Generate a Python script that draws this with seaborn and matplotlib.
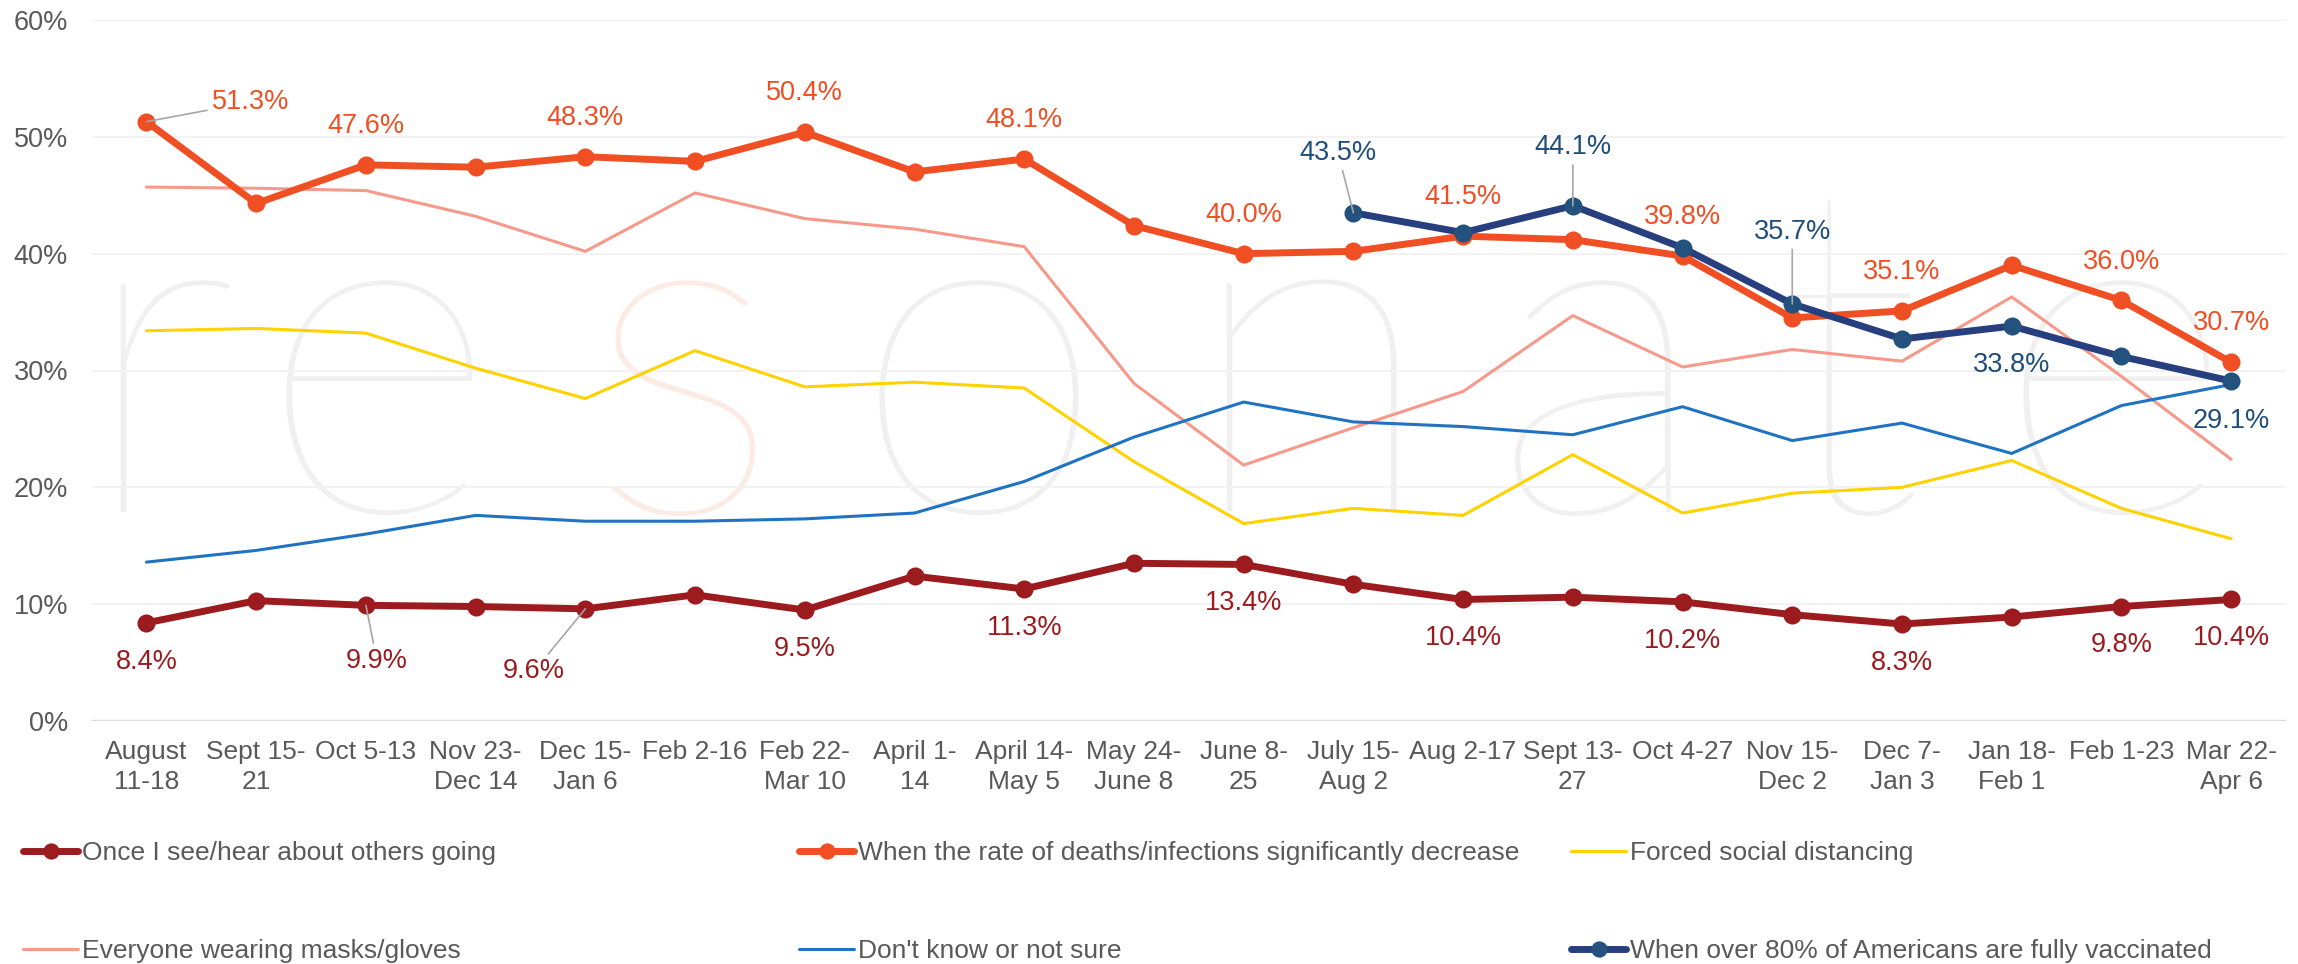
import numpy as np
import pandas as pd
import seaborn as sns
import matplotlib.pyplot as plt

# survey waves
waves = ["August\n11-18", "Sept 15-\n21", "Oct 5-13", "Nov 23-\nDec 14", "Dec 15-\nJan 6",
         "Feb 2-16", "Feb 22-\nMar 10", "April 1-\n14", "April 14-\nMay 5", "May 24-\nJune 8",
         "June 8-\n25", "July 15-\nAug 2", "Aug 2-17", "Sept 13-\n27", "Oct 4-27",
         "Nov 15-\nDec 2", "Dec 7-\nJan 3", "Jan 18-\nFeb 1", "Feb 1-23", "Mar 22-\nApr 6"]

others_going = [8.4, 10.3, 9.9, 9.8, 9.6, 10.8, 9.5, 12.4, 11.3, 13.5,
                13.4, 11.7, 10.4, 10.6, 10.2, 9.1, 8.3, 8.9, 9.8, 10.4]
rate_decrease = [51.3, 44.3, 47.6, 47.4, 48.3, 47.9, 50.4, 47.0, 48.1, 42.4,
                 40.0, 40.2, 41.5, 41.2, 39.8, 34.5, 35.1, 39.0, 36.0, 30.7]
social_distancing = [33.4, 33.6, 33.2, 30.2, 27.6, 31.7, 28.6, 29.0, 28.5, 22.2,
                     16.9, 18.2, 17.6, 22.8, 17.8, 19.5, 20.0, 22.3, 18.2, 15.6]
masks_gloves = [45.7, 45.6, 45.4, 43.2, 40.2, 45.2, 43.0, 42.1, 40.6, 28.9,
                21.9, 25.1, 28.2, 34.7, 30.3, 31.8, 30.8, 36.3, 29.5, 22.4]
dont_know = [13.6, 14.6, 16.0, 17.6, 17.1, 17.1, 17.3, 17.8, 20.5, 24.3,
             27.3, 25.6, 25.2, 24.5, 26.9, 24.0, 25.5, 22.9, 27.0, 28.8]
vaccinated = [np.nan] * 11 + [43.5, 41.8, 44.1, 40.5, 35.7, 32.7, 33.8, 31.2, 29.1]

names = ["Once I see/hear about others going",
         "When the rate of deaths/infections significantly decrease",
         "Forced social distancing",
         "Everyone wearing masks/gloves",
         "Don't know or not sure",
         "When over 80% of Americans are fully vaccinated"]

# which points get a value label
others_labels = [0, 2, 4, 6, 8, 10, 12, 14, 16, 18, 19]
rate_labels = [0, 2, 4, 6, 8, 10, 12, 14, 16, 18, 19]
vacc_labels = [11, 13, 15, 17, 19]

x = np.arange(len(waves))
df = pd.DataFrame({"x": x, names[0]: others_going, names[1]: rate_decrease,
                   names[2]: social_distancing, names[3]: masks_gloves,
                   names[4]: dont_know, names[5]: vaccinated})

DARKRED = "#9b1b1f"
ORANGE = "#f04e23"
YELLOW = "#ffd200"
SALMON = "#f7998a"
BLUE = "#1f73c2"
NAVY = "#283f7f"
NAVY_PT = "#23527f"
GREY = "#595959"

sns.set_theme(style="white")
plt.rcParams["font.family"] = ["Liberation Sans", "DejaVu Sans"]

fig = plt.figure(figsize=(22.98, 9.64), dpi=100)
ax = fig.add_axes([91.6 / 2298, 243 / 964, 2194.4 / 2298, 701 / 964])
ax.patch.set_alpha(0)

# faint "resonate" watermark behind the plot
for ch, xc, col in zip("resonate", [157, 378, 683, 979, 1310, 1600, 1847, 2115],
                       ["#f0f0f0", "#f0f0f0", "#fbebe4", "#f0f0f0", "#f0f0f0", "#f0f0f0", "#f0f0f0", "#f0f0f0"]):
    fig.text(xc / 2298, (964 - 512) / 964, ch, fontsize=335, color=col, ha="center",
             va="baseline", family=["Lato", "DejaVu Sans"], weight="light", zorder=-1)

# grid
for g in range(10, 61, 10):
    ax.axhline(g, color="#f2f2f2", lw=1.5, zorder=0)
ax.axhline(0, color="#d9d9d9", lw=2.5, zorder=0)

# thin series
sns.lineplot(data=df, x="x", y=names[3], color=SALMON, lw=2.2, label=names[3], ax=ax, legend=False)
sns.lineplot(data=df, x="x", y=names[2], color=YELLOW, lw=2.2, label=names[2], ax=ax, legend=False)
sns.lineplot(data=df, x="x", y=names[4], color=BLUE, lw=2.2, label=names[4], ax=ax, legend=False)

# thick series with markers
sns.lineplot(data=df, x="x", y=names[0], color=DARKRED, lw=5, marker="o", markersize=13,
             markeredgewidth=0, label=names[0], ax=ax, legend=False)
sns.lineplot(data=df, x="x", y=names[1], color=ORANGE, lw=5, marker="o", markersize=13,
             markeredgewidth=0, label=names[1], ax=ax, legend=False)
sns.lineplot(data=df.dropna(), x="x", y=names[5], color=NAVY, lw=5, marker="o", markersize=13,
             markerfacecolor=NAVY_PT, markeredgewidth=0, label=names[5], ax=ax, legend=False)

lead = dict(arrowstyle="-", color="#a6a6a6", lw=1.2, shrinkA=1, shrinkB=0)
fs = 19.5

for i in rate_labels:
    v = rate_decrease[i]
    if i == 0:
        ax.annotate(f"{v:.1f}%", (i, v), xytext=(47, 14), textcoords="offset points",
                    ha="left", va="center", color=ORANGE, fontsize=fs, arrowprops=lead)
    else:
        ax.annotate(f"{v:.1f}%", (i, v), xytext=(0, 28), textcoords="offset points",
                    ha="center", va="center", color=ORANGE, fontsize=fs)

for i in others_labels:
    v = others_going[i]
    if i == 2:
        ax.annotate(f"{v:.1f}%", (i, v), xytext=(8, -40), textcoords="offset points",
                    ha="center", va="center", color=DARKRED, fontsize=fs, arrowprops=lead)
    elif i == 4:
        ax.annotate(f"{v:.1f}%", (i, v), xytext=(-37, -45), textcoords="offset points",
                    ha="center", va="center", color=DARKRED, fontsize=fs, arrowprops=lead)
    else:
        ax.annotate(f"{v:.1f}%", (i, v), xytext=(0, -28), textcoords="offset points",
                    ha="center", va="center", color=DARKRED, fontsize=fs)

vacc_offsets = {11: (-11, 43), 13: (0, 42), 15: (0, 52), 17: (0, -28), 19: (0, -29)}
for i in vacc_labels:
    v = vaccinated[i]
    dx, dy = vacc_offsets[i]
    ax.annotate(f"{v:.1f}%", (i, v), xytext=(dx, dy), textcoords="offset points",
                ha="center", va="center", color="#1f4e79", fontsize=fs,
                arrowprops=lead if dy > 30 else None)

ax.set_xlim(-0.5, len(waves) - 0.5)
ax.set_ylim(0, 60)
ax.set_xticks(x)
ax.set_xticklabels(waves, fontsize=19, color=GREY, linespacing=1.28)
ax.set_yticks(range(0, 61, 10))
ax.set_yticklabels([f"{t}%" for t in range(0, 61, 10)], fontsize=fs, color=GREY)
ax.tick_params(axis="x", length=0, pad=14)
ax.tick_params(axis="y", length=0, pad=17)
ax.set_xlabel("")
ax.set_ylabel("")
sns.despine(ax=ax, left=True, bottom=True)

# legend: three columns placed like the original
handles, labels = ax.get_legend_handles_labels()
lookup = dict(zip(labels, handles))
columns = [(names[0], names[3]), (names[1], names[4]), (names[2], names[5])]
col_x = [23, 799, 1571]
for (a, b), cx in zip(columns, col_x):
    fig.legend([lookup[a], lookup[b]], [a, b], loc="upper left",
               bbox_to_anchor=(cx / 2298, (964 - 841) / 964), frameon=False,
               fontsize=19, labelcolor=GREY, handlelength=2.1, handletextpad=0.15,
               labelspacing=2.8, borderpad=0, borderaxespad=0, markerscale=0.9)

fig.savefig("out.png", dpi=100)
